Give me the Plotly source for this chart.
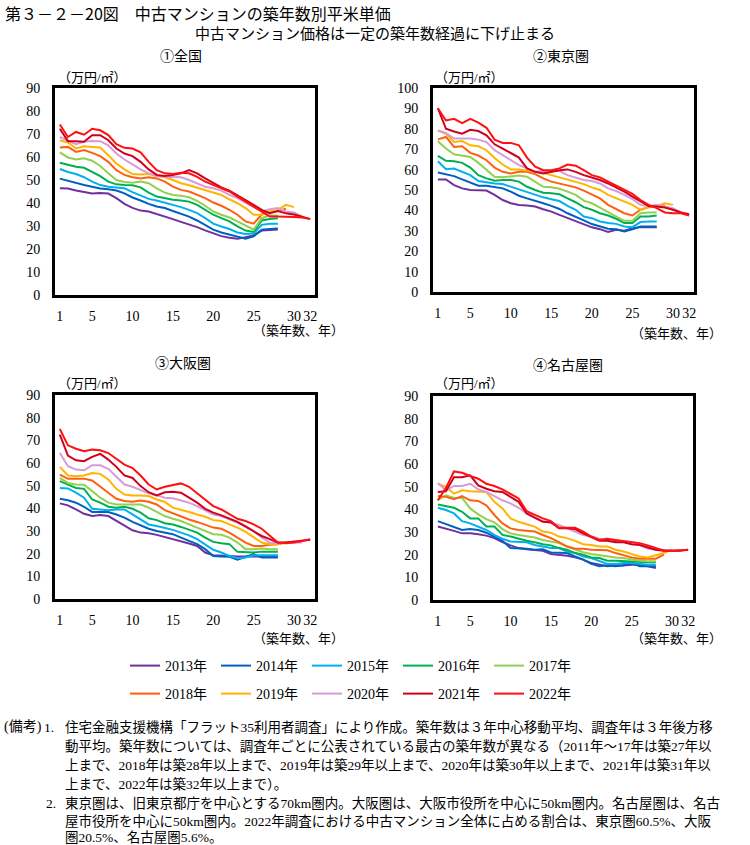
import plotly.graph_objects as go

# ---------------- data ----------------
ages = list(range(1, 33))
years = ["2013年", "2014年", "2015年", "2016年", "2017年",
         "2018年", "2019年", "2020年", "2021年", "2022年"]
colors = ["#7030A0", "#0060C0", "#00B0F0", "#00B050", "#92D050",
          "#FF6010", "#FFB400", "#D79CD7", "#D0001C", "#FF1010"]

x_ticks = [1, 5, 10, 15, 20, 25, 30, 32]

# ① 全国
z13 = [46.4,46.3,45.4,44.8,44.1,44.4,44.1,42.1,39.6,37.9,36.7,36.3,35.3,34.1,33.0,31.8,30.8,29.5,28.1,26.7,25.6,24.9,24.5,25.1,25.9,28.0,28.4,28.5]
z14 = [50.6,49.6,48.6,47.8,47.1,46.3,46.0,45.4,44.2,42.4,41.1,39.6,38.5,37.8,36.5,35.3,34.1,32.4,30.5,28.4,27.2,26.2,25.2,24.5,25.5,28.4,28.7,28.9]
z15 = [54.8,53.5,52.6,51.2,49.3,47.8,47.1,46.7,46.4,44.7,43.4,41.8,41.1,40.2,39.2,38.2,37.0,35.6,33.4,31.0,29.8,28.7,27.2,26.5,26.7,30.5,31.0,31.0]
z16 = [57.5,56.5,55.8,55.3,53.6,51.7,49.3,48.1,47.8,47.7,46.8,44.5,42.8,42.1,41.4,41.1,40.6,39.2,37.0,34.9,33.4,32.0,29.8,28.0,27.4,32.4,33.0,33.4]
z17 = [62.0,59.8,58.9,59.4,58.4,56.1,52.9,50.0,49.1,48.8,49.3,48.6,46.4,44.5,43.5,43.2,42.5,40.9,38.8,36.3,34.9,33.7,32.0,30.1,28.4,33.4,34.6,34.6]
z18 = [64.1,64.4,62.2,63.0,61.8,60.4,57.9,54.3,52.2,51.2,50.7,51.2,50.7,49.3,47.1,45.7,45.0,43.5,42.1,40.2,38.8,37.0,34.9,32.0,31.0,35.0,36.0,36.5,37.5]
z19 = [67.3,66.3,63.7,64.7,64.4,64.1,60.8,57.2,54.6,52.6,52.4,52.6,51.7,51.2,50.0,48.6,47.7,46.7,45.7,44.7,43.5,41.6,39.9,37.8,34.9,34.9,36.3,37.0,39.2,38.2]
z20 = [68.7,67.3,65.6,66.6,67.0,66.9,65.1,61.5,58.9,56.8,54.6,52.9,51.7,51.4,51.4,51.2,50.0,48.6,47.1,46.4,45.4,43.5,42.1,40.2,38.2,36.3,37.3,37.8,36.3,35.9,34.1]
z21 = [72.3,66.9,66.9,66.6,69.5,69.5,67.3,63.7,61.5,60.4,57.9,54.6,52.2,51.7,52.2,52.9,54.3,52.9,50.7,48.6,46.8,45.4,43.5,41.3,39.2,37.0,35.6,36.5,35.5,35.0,34.0,33.0]
z22 = [74.1,68.7,70.9,69.7,72.3,71.6,69.5,65.6,64.0,63.7,62.0,57.9,54.3,52.9,52.6,53.2,52.9,51.4,49.3,47.8,46.4,45.0,42.8,40.6,38.5,36.3,34.1,34.1,34.1,33.9,33.7,33.1]

# ② 東京圏
t13 = [55.2,55.2,52.4,50.8,50.0,49.7,49.7,47.6,45.1,43.5,42.7,42.4,41.9,40.6,39.4,37.8,36.2,34.6,33.0,31.7,30.8,29.4,30.5,30.0,31.3,31.8,31.8,31.8]
t14 = [58.6,57.6,56.8,55.2,53.6,52.1,52.1,51.3,50.8,49.2,47.2,45.9,44.8,43.5,42.2,40.7,38.6,37.0,35.1,33.3,32.1,31.0,30.8,29.7,30.8,32.1,32.1,32.1]
t15 = [64.1,60.2,60.5,58.9,57.3,54.4,53.7,53.2,52.9,51.6,50.0,48.7,47.6,46.4,45.5,44.6,42.2,40.3,37.0,36.2,34.6,33.8,33.4,32.1,31.8,34.3,34.6,34.6]
t16 = [66.7,64.3,64.1,63.3,61.0,57.3,55.7,54.5,54.9,54.9,54.1,51.6,50.0,48.7,48.4,47.9,45.9,44.0,41.6,40.3,38.6,37.5,35.9,33.8,33.8,37.0,37.0,37.5]
t17 = [73.9,70.3,67.5,67.0,66.2,63.3,59.7,56.5,56.2,56.5,57.1,56.5,54.1,51.6,51.3,50.6,49.2,47.6,44.8,43.5,41.4,39.4,37.0,34.9,34.9,38.6,39.0,39.0]
t18 = [74.8,76.0,71.1,71.4,68.2,66.9,64.6,61.0,58.9,58.1,58.9,58.9,57.8,55.7,54.1,53.2,52.4,51.3,49.7,47.6,45.9,42.7,40.6,38.6,37.5,40.3,41.6,41.9,42.7]
t19 = [79.2,77.6,73.5,74.0,71.9,71.4,69.5,65.7,62.5,60.1,60.1,59.4,58.9,58.4,57.3,56.2,54.9,53.7,52.9,51.3,50.0,47.6,45.9,44.3,42.7,40.3,41.9,42.2,43.5,42.7]
t20 = [79.2,77.9,75.2,75.2,75.2,74.7,73.5,69.5,67.0,64.6,62.2,60.6,58.9,59.3,59.4,59.3,57.3,56.2,54.9,54.4,53.2,50.8,49.5,47.6,45.5,42.7,42.2,42.7,41.9,41.1,39.0]
t21 = [90.1,80.0,78.7,77.6,79.5,78.9,76.8,72.4,70.3,68.2,65.9,60.6,58.9,58.1,58.9,59.7,60.1,58.9,57.3,56.2,54.9,53.2,51.3,49.2,46.8,44.3,42.2,41.9,41.4,40.3,39.0,38.1]
t22 = [90.1,84.1,84.9,82.8,84.9,83.0,80.5,74.7,73.1,73.1,71.9,65.9,61.4,59.7,59.7,60.6,62.5,61.9,59.7,57.3,56.2,54.1,52.4,50.3,48.1,45.1,42.7,41.1,39.0,38.6,38.6,37.5]

# ③ 大阪圏
o13 = [42.2,41.3,39.5,37.6,36.6,37.0,36.6,34.4,32.2,30.3,29.3,29.0,28.3,27.4,26.4,25.3,24.5,23.4,20.5,19.3,19.3,19.0,18.7,18.7,19.0,18.7,18.6,18.6]
o14 = [44.2,43.6,42.5,40.7,38.4,38.4,38.4,37.3,35.9,34.0,32.5,31.0,30.0,29.3,28.6,27.1,25.6,24.2,22.0,19.0,18.7,18.6,17.3,18.7,19.8,18.3,18.3,18.3]
o15 = [49.0,48.8,46.9,44.7,39.8,39.5,39.2,39.5,39.5,37.3,35.1,32.9,32.2,31.5,30.5,29.3,28.1,26.4,24.2,21.7,20.5,19.0,18.0,18.3,19.3,19.3,19.3,19.3]
o16 = [52.0,50.5,49.0,48.6,43.9,42.5,40.7,40.3,40.7,39.8,38.1,35.6,34.8,33.4,32.9,31.8,30.7,29.3,27.1,25.2,24.6,24.2,20.8,20.5,20.5,20.9,20.9,20.9]
o17 = [53.4,51.2,50.5,50.4,47.6,44.7,42.5,41.7,41.7,41.7,41.7,40.3,38.4,36.6,35.4,34.4,32.9,31.5,30.0,28.6,28.3,27.1,24.9,22.0,22.0,22.3,22.0,22.0]
o18 = [54.9,53.0,53.0,53.1,52.3,49.8,46.9,44.2,43.2,42.9,43.5,42.9,41.7,39.2,37.8,36.6,35.1,34.0,32.9,31.5,31.0,29.3,27.1,24.9,23.4,23.4,23.9,24.2,24.9]
o19 = [58.3,54.5,54.2,54.5,55.6,55.2,52.7,48.6,46.1,45.7,45.7,45.4,43.9,42.8,40.3,39.5,38.4,37.3,36.3,34.8,34.4,32.9,31.5,29.6,27.1,24.9,24.2,24.2,24.9,25.3]
o20 = [64.4,58.6,57.1,56.8,59.0,59.0,57.4,53.9,50.5,49.5,48.0,46.6,45.7,44.7,44.4,43.6,42.5,41.0,39.2,37.3,36.6,35.1,33.7,32.2,30.0,27.1,24.9,24.6,24.9,24.9,24.9]
o21 = [72.5,63.3,61.2,60.8,62.7,64.0,61.5,58.3,54.5,53.4,49.8,47.1,45.7,47.1,47.3,46.9,44.7,42.5,39.8,38.1,36.9,35.4,34.0,31.9,30.0,27.8,26.4,24.9,24.9,25.2,25.6,26.1]
o22 = [75.0,67.8,66.3,65.2,65.9,65.6,64.4,61.8,59.3,57.8,54.5,50.5,48.3,49.5,50.2,51.0,49.5,46.6,43.9,41.0,39.5,37.3,35.4,34.4,32.9,31.0,27.8,24.9,24.6,24.9,25.6,26.4]

# ④ 名古屋圏
n13 = [32.4,31.6,30.5,29.4,29.4,29.0,28.4,27.3,25.5,24.1,22.9,22.4,22.2,21.7,20.3,20.0,19.5,18.8,17.8,16.3,15.6,14.9,15.3,15.2,15.6,15.6,14.9,14.1]
n14 = [34.8,33.4,32.1,30.9,31.3,30.9,29.7,28.0,26.1,22.9,22.9,22.6,22.2,22.4,21.0,20.7,20.7,19.2,17.8,16.0,14.9,15.3,14.9,15.3,16.3,14.9,14.9,14.9]
n15 = [40.7,39.7,38.2,34.8,33.8,32.4,30.9,28.7,27.0,25.8,25.5,25.5,24.3,23.6,22.9,22.9,21.4,20.7,19.2,18.5,17.1,15.9,15.9,16.3,16.3,15.9,15.6,15.6]
n16 = [42.1,41.4,40.7,38.9,36.0,36.0,32.4,32.4,28.7,28.0,27.0,26.1,25.5,24.6,24.1,22.9,22.2,20.7,20.0,18.8,18.5,17.3,17.3,17.1,16.8,16.8,16.6,16.6]
n17 = [44.0,46.2,45.0,45.0,40.4,37.8,35.7,34.3,31.3,29.4,28.7,28.0,27.6,26.5,25.8,25.1,23.6,22.2,21.1,20.3,19.7,19.2,18.8,18.5,17.8,17.3,17.1,17.1]
n18 = [45.9,45.5,44.5,45.8,44.0,43.7,41.8,37.5,33.8,31.6,30.9,30.5,30.2,28.7,27.3,25.5,23.6,22.6,22.6,22.2,22.2,21.9,20.7,19.7,18.8,18.2,18.2,18.2,20.0]
n19 = [51.3,49.9,46.9,48.4,48.0,48.0,47.7,43.3,40.4,36.0,34.5,33.4,32.4,30.2,29.7,28.0,27.3,26.1,24.6,24.3,23.6,23.6,22.2,21.4,20.3,19.2,18.8,19.7,20.7,22.2]
n20 = [51.6,48.4,50.3,50.3,51.3,48.8,47.7,45.9,44.0,42.6,40.7,38.2,36.3,34.8,33.8,33.1,31.6,30.2,28.7,28.0,27.0,26.5,25.8,25.8,25.5,24.3,22.6,22.2,22.2,21.7,21.7]
n21 = [47.7,48.0,54.2,54.2,55.0,50.6,49.1,48.0,47.7,45.5,43.3,38.2,36.3,34.5,34.3,31.6,31.6,31.3,29.4,27.6,26.1,26.1,25.5,25.5,24.6,24.3,23.2,22.2,21.7,21.7,21.7,22.2]
n22 = [44.0,49.4,56.7,56.1,54.7,53.5,51.3,50.3,48.8,46.9,44.8,39.2,37.5,36.0,34.8,31.9,31.9,31.9,30.2,28.0,26.5,27.0,26.5,26.1,25.5,25.1,24.1,22.9,21.7,21.7,21.9,22.2]

panel_titles = ["①全国", "②東京圏", "③大阪圏", "④名古屋圏"]
panel_series = [
    [z13, z14, z15, z16, z17, z18, z19, z20, z21, z22],
    [t13, t14, t15, t16, t17, t18, t19, t20, t21, t22],
    [o13, o14, o15, o16, o17, o18, o19, o20, o21, o22],
    [n13, n14, n15, n16, n17, n18, n19, n20, n21, n22],
]
y_max = [90, 100, 90, 90]

# ---------------- layout helpers ----------------
W, H = 750, 845
def px(x):
    return x / W
def py(y):
    return 1 - y / H

JP = "Noto Sans CJK JP"
SERIF = "Liberation Serif, Noto Sans CJK JP"

# plot boxes in pixels: left, right, top, bottom
boxes = [(55, 315, 88, 295), (433, 694, 88, 292), (55, 315, 395, 599), (433, 693, 396, 600)]

fig = go.Figure()

for p, series in enumerate(panel_series):
    ax = "" if p == 0 else str(p + 1)
    for i, vals in enumerate(series):
        fig.add_trace(go.Scatter(
            x=ages[:len(vals)], y=vals, mode="lines",
            name=years[i],
            line=dict(color=colors[i], width=2),
            xaxis="x" + ax, yaxis="y" + ax,
            showlegend=(p == 0),
            legend="legend" if i < 5 else "legend2",
        ))
    l, r, t, b = boxes[p]
    fig.update_layout(**{
        "xaxis" + ax: dict(
            domain=[px(l), px(r)], anchor="y" + ax, automargin=False,
            range=[0.4, 32.6], tickmode="array", tickvals=x_ticks,
            tickangle=0, showgrid=False, zeroline=False,
            showline=True, mirror=True, linecolor="black", linewidth=3,
            ticks="", ticklabelstandoff=6,
            tickfont=dict(family=SERIF, size=14, color="black"),
        ),
        "yaxis" + ax: dict(
            domain=[py(b), py(t)], anchor="x" + ax, automargin=False,
            range=[0, y_max[p]], dtick=10, showgrid=False, zeroline=False,
            showline=True, mirror=True, linecolor="black", linewidth=3,
            ticks="", ticklabelstandoff=9,
            tickfont=dict(family=SERIF, size=14, color="black"),
        ),
    })

annotations = []
def add_text(x, y, text, size, family=JP, xanchor="left"):
    annotations.append(dict(
        x=px(x), y=py(y), xref="paper", yref="paper", text=text,
        showarrow=False, xanchor=xanchor, yanchor="middle",
        font=dict(family=family, size=size, color="black"),
    ))

add_text(3, 13, "第３－２－20図　中古マンションの築年数別平米単価", 16)
add_text(375, 33, "中古マンション価格は一定の築年数経過に下げ止まる", 15, xanchor="center")

title_pos = [(181, 55), (561, 55), (183, 362), (568, 364)]
unit_pos = [(56, 77), (433, 77), (56, 384), (433, 384)]
xt_pos = [(346, 331), (724, 333), (346, 638), (724, 638)]
for p in range(4):
    add_text(title_pos[p][0], title_pos[p][1], panel_titles[p], 14, xanchor="center")
    add_text(unit_pos[p][0], unit_pos[p][1], "（万円/㎡）", 13, family=SERIF)
    add_text(xt_pos[p][0], xt_pos[p][1], "（築年数、年）", 13, family=SERIF, xanchor="right")

# notes
note_label = "(備考)"
note_lines = [
    "住宅金融支援機構「フラット35利用者調査」により作成。築年数は３年中心移動平均、調査年は３年後方移",
    "動平均。築年数については、調査年ごとに公表されている最古の築年数が異なる（2011年～17年は築27年以",
    "上まで、2018年は築28年以上まで、2019年は築29年以上まで、2020年は築30年以上まで、2021年は築31年以",
    "上まで、2022年は築32年以上まで）。",
    "東京圏は、旧東京都庁を中心とする70km圏内。大阪圏は、大阪市役所を中心に50km圏内。名古屋圏は、名古",
    "屋市役所を中心に50km圏内。2022年調査における中古マンション全体に占める割合は、東京圏60.5%、大阪",
    "圏20.5%、名古屋圏5.6%。",
]
note_y = [727, 746, 765, 784, 803, 821, 837]
add_text(2, note_y[0], note_label, 14, family=SERIF)
add_text(42, note_y[0], "1.", 13.5, family=SERIF)
add_text(44, note_y[4], "2.", 13.5, family=SERIF)
for t, yv in zip(note_lines, note_y):
    add_text(63, yv, t, 13.5, family=SERIF)

legend_common = dict(
    orientation="h", xanchor="left", yanchor="middle",
    entrywidth=46, entrywidthmode="pixels", itemwidth=30,
    font=dict(family=SERIF, size=14, color="black"),
    bgcolor="rgba(0,0,0,0)", traceorder="normal", tracegroupgap=0,
)
fig.update_layout(
    width=W, height=H,
    margin=dict(l=0, r=0, t=0, b=0, pad=0, autoexpand=False),
    paper_bgcolor="white", plot_bgcolor="white",
    annotations=annotations,
    legend=dict(x=px(125), y=py(666), **legend_common),
    legend2=dict(x=px(125), y=py(694), **legend_common),
)

# remove the browser's default 8px page margin so the figure fills the window exactly
fig.write_html("out.html", config={"displayModeBar": False},
               post_script="document.body.style.margin='0px';")
